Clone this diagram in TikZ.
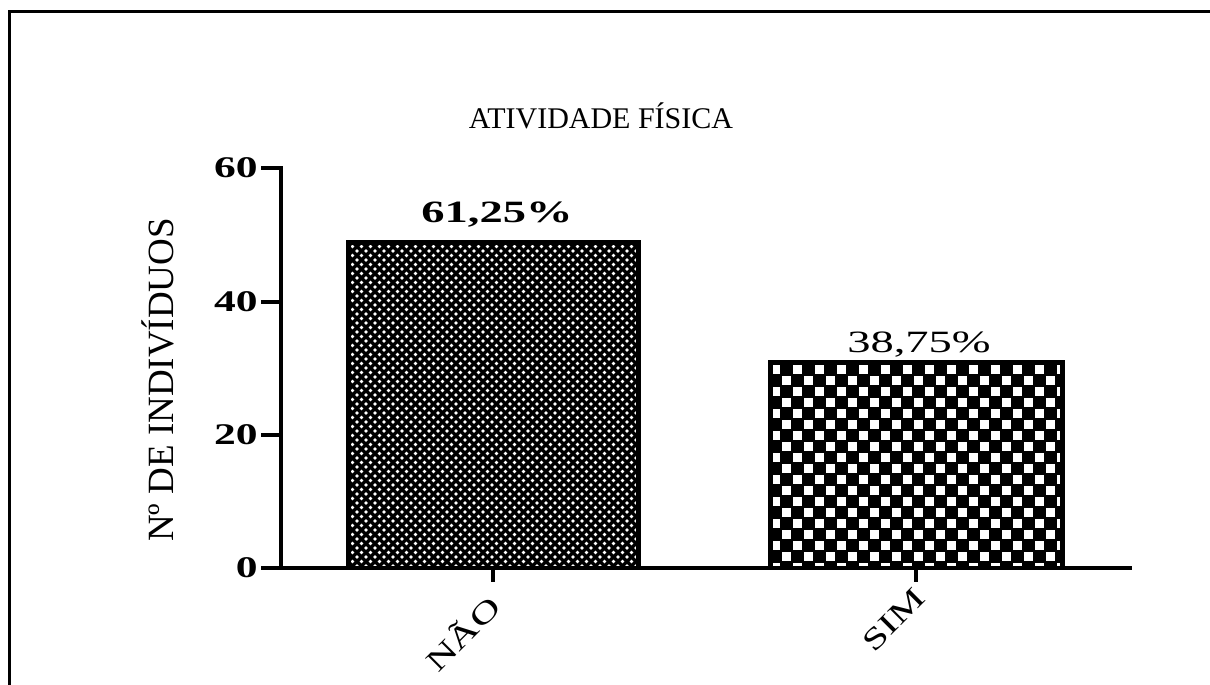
\documentclass[tikz,border=0pt]{standalone}
\usepackage{fontspec}
\setmainfont{Liberation Serif}
\begin{document}
\begin{tikzpicture}[x=1pt,y=-1pt,
  axisline/.style={line width=4pt,line cap=rect},
  barline/.style={line width=5pt},
  ticklab/.style={font=\fontsize{30}{30}\selectfont\bfseries,xscale=1.45,anchor=east,inner sep=0pt},
  catlab/.style={font=\fontsize{30}{30}\selectfont,rotate=45,xscale=1.4,anchor=north east,inner sep=0pt},
  pctlab/.style={font=\fontsize{31}{31}\selectfont,xscale=1.5,inner sep=0pt}]
\useasboundingbox (0,0) rectangle (1210,685);
% frame (only left and top visible)
\draw[line width=3pt] (9,685) -- (9,12) -- (1210,12);
% title
\node[font=\fontsize{30}{30}\selectfont,inner sep=0pt] (title) at (601,116) {ATIVIDADE FÍSICA};
% y label
\node[font=\fontsize{37}{37}\selectfont,rotate=90,inner sep=0pt] (ylab) at (158,380) {Nº DE INDIVÍDUOS};
% bar NAO pattern
\begin{scope}
\clip (348,242) rectangle (638,568);
\fill[black] (348,242) rectangle (638,568);
\foreach \r in {0,...,74} {\foreach \c in {0,...,33} {
  \fill[white] ({348+\c*9+mod(\r,2)*4.5},{242+\r*4.5}) circle (1.8);}}
\end{scope}
\draw[barline] (348,568) -- (348,242) -- (638,242) -- (638,568);
% bar SIM pattern
\begin{scope}
\clip (770,362) rectangle (1062,568);
\fill[black] (770,362) rectangle (1062,568);
\foreach \r in {0,...,19} {\foreach \c in {0,...,14} {
  \fill[white] ({771+\c*22+mod(\r,2)*11},{365+\r*11}) rectangle +(9,8.5);}}
\end{scope}
\draw[barline] (770,568) -- (770,362) -- (1062,362) -- (1062,568);
% axes
\coordinate (ytop) at (281,168);
\coordinate (orig) at (281,568);
\coordinate (xleft) at (263,568);
\coordinate (xright) at (1130,568);
\draw[axisline] (ytop) -- (orig);
\draw[axisline] (xleft) -- (xright);
\foreach \v/\yy in {60/168,40/302,20/435,0/568} {
  \draw[axisline] (263,\yy) -- (281,\yy);
  \node[ticklab] (t\v) at (258,\yy) {\v};
}
\draw[axisline] (493,568) -- (493,580);
\draw[axisline] (916,568) -- (916,580);
% labels
\node[pctlab,font=\fontsize{31}{31}\selectfont\bfseries] (p1) at (497,215) {61,25\%};
\node[pctlab] (p2) at (919,345) {38,75\%};
\node[catlab] (c1) at (485,591) {NÃO};
\node[catlab] (c2) at (913,586) {SIM};
\end{tikzpicture}
\end{document}
